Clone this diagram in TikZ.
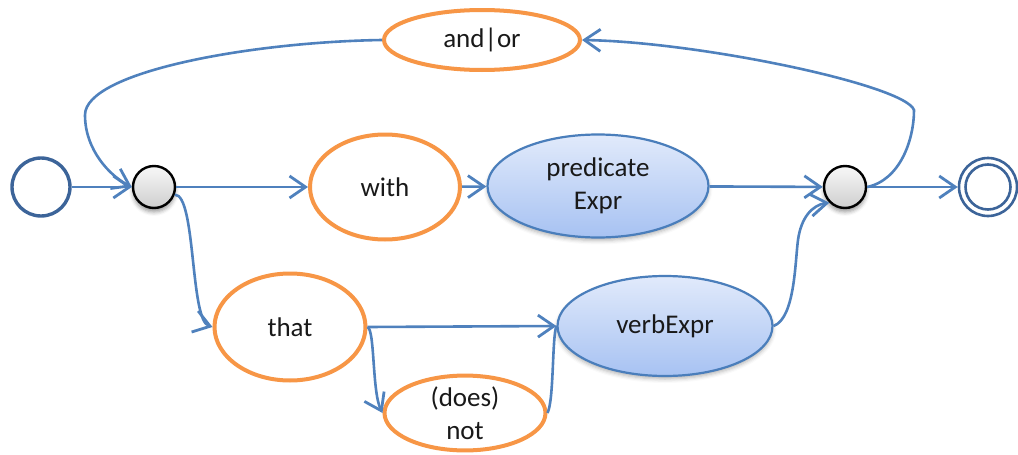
\documentclass[tikz,border=0pt]{standalone}
\usepackage{fontspec}
\setmainfont{Carlito}
\usetikzlibrary{arrows.meta,shapes.geometric,shadows.blur}

\definecolor{wirecol}{HTML}{4F81BD}
\definecolor{ringcol}{HTML}{F79646}
\definecolor{edgeblue}{HTML}{4A7EBB}
\definecolor{fillhi}{HTML}{E1EAFB}
\definecolor{filllo}{HTML}{A7C2F2}
\definecolor{termcol}{HTML}{3C6499}

\begin{document}
\begin{tikzpicture}[x=1pt,y=-1pt,
  every node/.style={font=\fontsize{27}{33}\selectfont, align=center, inner sep=0pt, text=black!90},
  word/.style={ellipse, draw=ringcol, line width=4pt, fill=white},
  rulebox/.style={ellipse, draw=edgeblue, line width=2.2pt, top color=fillhi, bottom color=filllo,
    blur shadow={shadow xshift=0pt, shadow yshift=-3pt, shadow blur radius=4pt, shadow opacity=30}},
  junction/.style={circle, draw=black, line width=2.4pt, top color=gray!6, bottom color=gray!38,
    minimum size=42pt,
    blur shadow={shadow xshift=0pt, shadow yshift=-4pt, shadow blur radius=4pt, shadow opacity=40}},
  terminal/.style={circle, draw=termcol, line width=3.4pt, fill=white, minimum size=58pt},
  wire/.style={draw=wirecol, line width=2.6pt},
  tip/.style={-{Straight Barb[length=16pt,width=22pt,line width=2.8pt]}}
]
\useasboundingbox (0,0) rectangle (1018,455);

% states
\node[terminal] (start) at (41,187) {};
\node[junction] (fork) at (154,187) {};
\node[word, minimum width=150pt, minimum height=105pt] (with) at (385,187) {with};
\node[rulebox, minimum width=221pt, minimum height=103pt] (pred) at (598,186) {predicate\\Expr};
\node[junction] (join) at (845,187) {};
\node[terminal, line width=2.6pt] (accept) at (988,187) {};
\draw[termcol, line width=2.6pt] (accept.center) circle (22.5pt);
\node[word, minimum width=196pt, minimum height=60pt] (andor) at (482,40) {and|or};
\node[word, minimum width=151pt, minimum height=107pt] (that) at (290,327) {that};
\node[rulebox, minimum width=215pt, minimum height=100pt] (verb) at (665,326) {verbExpr};
\node[word, minimum width=161pt, minimum height=73pt] (not) at (465,413) {(does)\\not};

% transitions
\draw[wire,tip] (start) -- (fork);
\draw[wire,tip] (andor.west) .. controls (250,42) and (85,72) .. (85,115)
  .. controls (85,150) and (110,176) .. (fork.west);
\draw[wire,tip] (fork) -- (with);
\draw[wire,tip] (with) -- (pred);
\draw[wire,tip] (pred) -- (join);
\draw[wire,tip] (join) -- (accept);
\draw[wire,tip] (join.east) .. controls (900,180) and (914,140) .. (914,110)
  .. controls (905,85) and (700,42) .. (andor.east);
\draw[wire,tip] (verb.east) .. controls (795,318) and (795,262) .. (798,240)
  .. controls (801,218) and (812,205) .. (join.south west);
\draw[wire,tip] (fork.-20) .. controls (196,195) and (190,320) .. (that.west);
\draw[wire,tip] (that.east) -- (verb.west);
\draw[wire,tip] (that.east) .. controls (375,330) and (372,392) .. (not.west);
\draw[wire] (not.east) .. controls (554,400) and (552,338) .. (verb.west);
\end{tikzpicture}
\end{document}
